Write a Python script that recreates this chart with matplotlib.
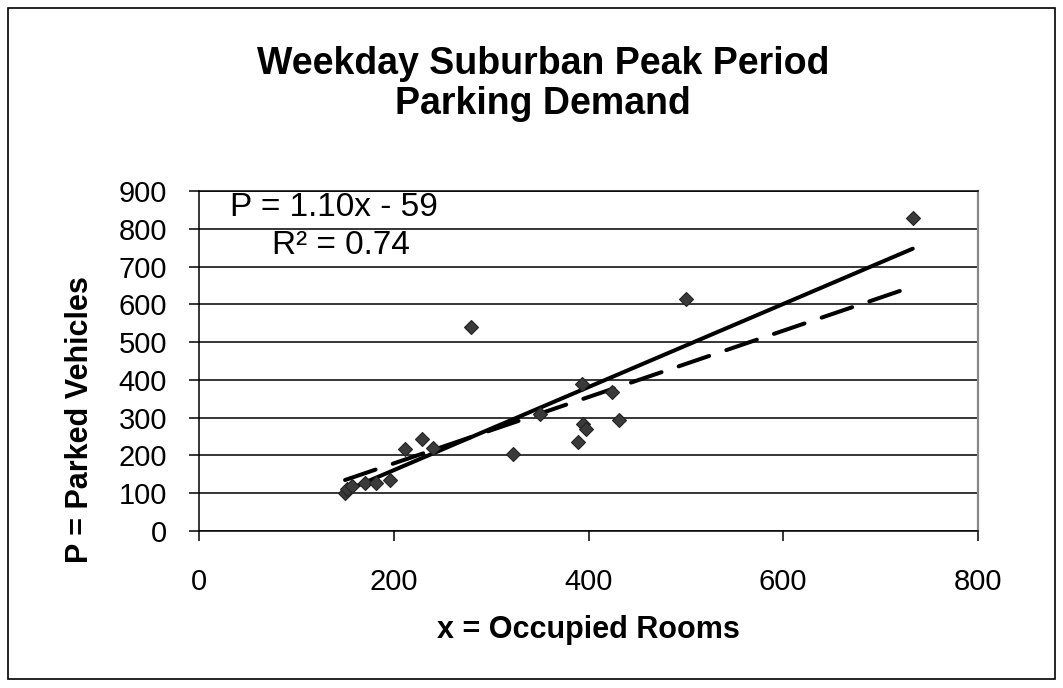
import matplotlib
matplotlib.use("Agg")
import matplotlib.pyplot as plt
from matplotlib.patches import Rectangle

plt.rcParams['font.family'] = ['Liberation Sans', 'DejaVu Sans']

# ---- data ----
rooms = [150, 152, 157, 170, 182, 196, 212, 229, 240, 279, 322, 350,
         389, 393, 394, 397, 424, 431, 500, 733]
vehicles = [100, 110, 118, 126, 128, 135, 216, 243, 221, 539, 203, 311,
            235, 389, 282, 270, 369, 294, 615, 828]

fit_slope = 1.10
fit_intercept = -59
r_squared = 0.74

alt_fit_x = [150, 733]
alt_fit_y = [135, 647]

x_ticks = [0, 200, 400, 600, 800]
y_ticks = [0, 100, 200, 300, 400, 500, 600, 700, 800, 900]

title_text = "Weekday Suburban Peak Period\nParking Demand"
x_label = "x = Occupied Rooms"
y_label = "P = Parked Vehicles"

W, H = 1063, 688
fig = plt.figure(figsize=(W / 100, H / 100), dpi=100)
fig.patch.set_facecolor('white')

# plot area in pixels: left 199, right 978, top 191, bottom 531
left, right, top, bottom = 199, 978, 191, 531
ax = fig.add_axes([left / W, 1 - bottom / H, (right - left) / W, (bottom - top) / H])

ax.set_xlim(x_ticks[0], x_ticks[-1])
ax.set_ylim(y_ticks[0], y_ticks[-1])
ax.set_xticks(x_ticks)
ax.set_yticks(y_ticks)

ax.grid(axis='y', color='black', linewidth=1.1)
ax.set_axisbelow(True)

for s in ['left', 'bottom']:
    ax.spines[s].set_color('black')
    ax.spines[s].set_linewidth(1.1)
ax.spines['right'].set_color('#888888')
ax.spines['right'].set_linewidth(1.6)
ax.spines['top'].set_color('black')
ax.spines['top'].set_linewidth(1.1)

ax.tick_params(axis='both', direction='out', length=7, width=1.1, colors='black',
               labelsize=21)
ax.tick_params(axis='y', pad=16)
ax.tick_params(axis='x', pad=20)

# trend lines
fx = [min(rooms), max(rooms)]
fy = [fit_slope * v + fit_intercept for v in fx]
ax.plot(fx, fy, color='black', linewidth=2.9, solid_capstyle='round', zorder=3)
ax.plot(alt_fit_x, alt_fit_y, color='black', linewidth=2.9, dashes=(8, 4.5),
        dash_capstyle='round', zorder=3)

# data points
ax.plot(rooms, vehicles, linestyle='none', marker='D', markersize=7.5,
        markerfacecolor='#3a3a3a', markeredgecolor='#222222', markeredgewidth=0.8,
        zorder=4)

# axis titles
fig.text(588.5 / W, 1 - 630 / H, x_label, ha='center', va='center',
         fontsize=22, fontweight='bold')
fig.text(80 / W, 1 - 420 / H, y_label, ha='center', va='center',
         rotation=90, fontsize=22, fontweight='bold')

fig.text(0.511, 1 - 84 / H, title_text, ha='center', va='center', fontsize=27,
         fontweight='bold', linespacing=1.15)

sign = '-' if fit_intercept < 0 else '+'
fig.text(334 / W, 1 - 207 / H, f"P = {fit_slope:.2f}x {sign} {abs(fit_intercept)}",
         ha='center', va='center', fontsize=24)
fig.text(341 / W, 1 - 245 / H, f"R² = {r_squared:.2f}",
         ha='center', va='center', fontsize=24)

# outer chart border
fig.patches.append(Rectangle((8 / W, 1 - 679 / H), (1055 - 8) / W, (679 - 8) / H,
                             transform=fig.transFigure, fill=False,
                             edgecolor='black', linewidth=1.2))

fig.savefig('out.png', dpi=100, facecolor='white')
